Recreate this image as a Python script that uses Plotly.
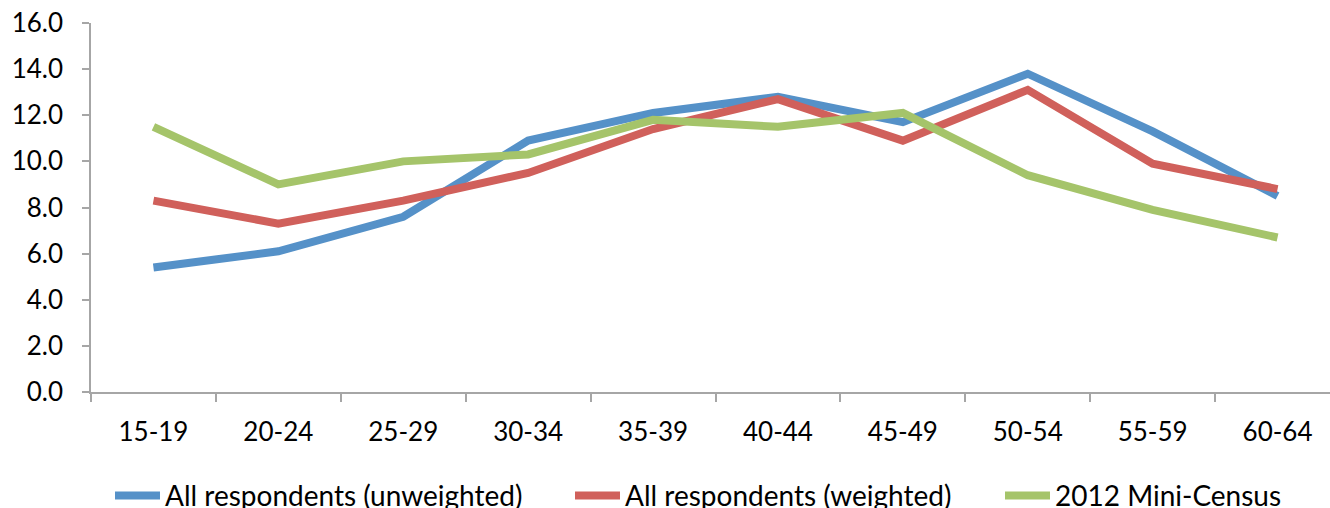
import plotly.graph_objects as go

categories = ["15-19", "20-24", "25-29", "30-34", "35-39", "40-44", "45-49", "50-54", "55-59", "60-64"]
unweighted = [5.4, 6.1, 7.6, 10.9, 12.1, 12.8, 11.7, 13.8, 11.3, 8.5]
weighted = [8.3, 7.3, 8.3, 9.5, 11.4, 12.7, 10.9, 13.1, 9.9, 8.8]
census = [11.5, 9.0, 10.0, 10.3, 11.8, 11.5, 12.1, 9.4, 7.9, 6.7]
y_ticks = [0, 2, 4, 6, 8, 10, 12, 14, 16]

series = [
    ("All respondents (unweighted)", unweighted, "#5591C8", "legend"),
    ("All respondents (weighted)", weighted, "#D0605B", "legend2"),
    ("2012 Mini-Census", census, "#A5C46A", "legend3"),
]
legend_left_px = [110, 570, 1000]

fig = go.Figure()
for name, vals, color, lg in series:
    fig.add_trace(go.Scatter(x=categories, y=vals, name=name, mode="lines", legend=lg,
                             line=dict(color=color, width=8)))

tick_font = dict(family="Lato, 'Open Sans', sans-serif", size=26, color="#000000")
legend_font = dict(family="Lato, 'Open Sans', sans-serif", size=28, color="#000000")


def legend_cfg(px):
    return dict(orientation="h", xref="container", yref="container",
                x=px / 1330, xanchor="left", y=0.024, yanchor="middle",
                font=legend_font, itemwidth=45, bgcolor="rgba(0,0,0,0)")


fig.update_layout(
    width=1330, height=508,
    margin=dict(l=91, r=0, t=23, b=116, autoexpand=False),
    plot_bgcolor="white", paper_bgcolor="white",
    font=tick_font,
    showlegend=True,
    legend=legend_cfg(legend_left_px[0]),
    legend2=legend_cfg(legend_left_px[1]),
    legend3=legend_cfg(legend_left_px[2]),
)
fig.update_xaxes(type="category", range=[-0.5, 9.42], showgrid=False, automargin=False,
                 showline=True, linecolor="#A6A6A6", linewidth=1.5,
                 ticks="outside", tickson="boundaries", ticklen=8, tickcolor="#A6A6A6",
                 tickwidth=1.5, ticklabelstandoff=16, tickfont=tick_font)
fig.update_yaxes(range=[0, 16], tickvals=y_ticks, tickformat=".1f", showgrid=False,
                 automargin=False,
                 showline=True, linecolor="#A6A6A6", linewidth=1.5, zeroline=False,
                 ticks="outside", ticklen=7, tickcolor="#A6A6A6", tickwidth=1.5,
                 ticklabelstandoff=14, tickfont=tick_font)

fig.write_html("out.html", config={"displayModeBar": False},
               post_script="document.body.style.margin='0';document.body.style.overflow='hidden';")
